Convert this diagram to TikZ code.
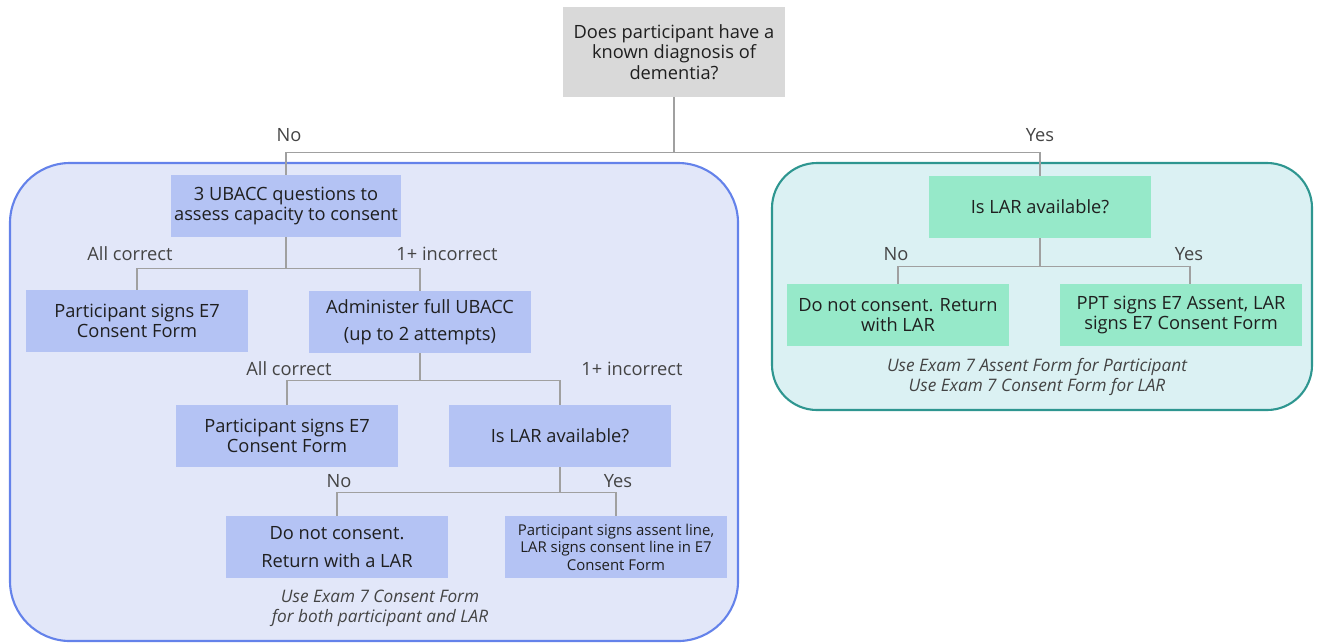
\documentclass[tikz,border=0pt]{standalone}
\usepackage{fontspec}
\setmainfont{Open Sans}
\usetikzlibrary{positioning}
\definecolor{gris}{HTML}{D9D9D9}
\definecolor{azul}{HTML}{B4C3F4}
\definecolor{azulfondo}{HTML}{E2E7F9}
\definecolor{azulborde}{HTML}{6482EA}
\definecolor{verde}{HTML}{96E9C9}
\definecolor{tealfondo}{HTML}{DBF1F3}
\definecolor{tealborde}{HTML}{2E9690}
\definecolor{linea}{HTML}{A0A0A0}
\definecolor{texto}{HTML}{444444}
\begin{document}
\begin{tikzpicture}[x=0.02cm, y=-0.02cm, font=\fontsize{10.4}{11.6}\selectfont,
      caja/.style={minimum width=4.46cm, minimum height=1.24cm, align=center, inner sep=2pt,
                   text=black!88},
      rama/.style={draw=linea, line width=0.7pt},
      etiqueta/.style={text=texto},
      nota/.style={text=texto, align=center, font=\fontsize{9.8}{11.5}\selectfont\itshape}]
    \useasboundingbox (0,0) rectangle (1317,643);
    % marcos de fondo
    \draw[draw=azulborde, fill=azulfondo, line width=1.2pt, rounded corners=1.2cm] (10,163) rectangle (738,641);
    \draw[draw=tealborde, fill=tealfondo, line width=1.2pt, rounded corners=0.9cm] (772,163) rectangle (1312,410);
    % pregunta inicial
    \node[caja, fill=gris, minimum height=1.8cm] (dem) at (674,52) {Does participant have a\\known diagnosis of\\dementia?};
    % rama sin demencia
    \node[caja, fill=azul] (ubacc) at (286,206) {3 UBACC questions to\\assess capacity to consent};
    \node[caja, fill=azul] (firma1) at (137,321) {Participant signs E7\\Consent Form};
    \node[caja, fill=azul] (full) at (420,322) {Administer full UBACC\\[4pt](up to 2 attempts)};
    \node[caja, fill=azul] (firma2) at (287,436) {Participant signs E7\\Consent Form};
    \node[caja, fill=azul] (lar1) at (560,436) {Is LAR available?};
    \node[caja, fill=azul] (noc1) at (337,547) {Do not consent.\\[4pt]Return with a LAR};
    \node[caja, fill=azul, font=\fontsize{8.5}{10}\selectfont] (asent1) at (616,547) {Participant signs assent line,\\LAR signs consent line in E7\\Consent Form};
    % rama con demencia
    \node[caja, fill=verde] (lar2) at (1040,207) {Is LAR available?};
    \node[caja, fill=verde] (noc2) at (898,315) {Do not consent. Return\\with LAR};
    \node[caja, fill=verde, minimum width=4.86cm] (asent2) at (1181,315) {PPT signs E7 Assent, LAR\\signs E7 Consent Form};
    % conectores
    \draw[rama] (dem.south) -- ++(0,55) -| (ubacc.north);
    \draw[rama] (dem.south) -- ++(0,55) -| (lar2.north);
    \draw[rama] (ubacc.south) -- ++(0,31) -| (firma1.north);
    \draw[rama] (ubacc.south) -- ++(0,31) -| (full.north);
    \draw[rama] (full.south) -- ++(0,27) -| (firma2.north);
    \draw[rama] (full.south) -- ++(0,27) -| (lar1.north);
    \draw[rama] (lar1.south) -- ++(0,25) -| (noc1.north);
    \draw[rama] (lar1.south) -- ++(0,25) -| (asent1.north);
    \draw[rama] (lar2.south) -- ++(0,28) -| (noc2.north);
    \draw[rama] (lar2.south) -- ++(0,28) -| ([xshift=0.18cm]asent2.north);
    % etiquetas
    \node[etiqueta] (eno) at (289,135) {No};
    \node[etiqueta] (esi) at (1040,135) {Yes};
    \node[etiqueta] (ebien1) at (130,254) {All correct};
    \node[etiqueta] (emal1) at (447,254) {1+ incorrect};
    \node[etiqueta] (ebien2) at (289,369) {All correct};
    \node[etiqueta] (emal2) at (632,369) {1+ incorrect};
    \node[etiqueta] (eno1) at (339,481) {No};
    \node[etiqueta] (esi1) at (618,481) {Yes};
    \node[etiqueta] (eno2) at (896,254) {No};
    \node[etiqueta] (esi2) at (1189,254) {Yes};
    % notas
    \node[nota] (nota1) at (380,608) {Use Exam 7 Consent Form\\for both participant and LAR};
    \node[nota] (nota2) at (1037,377) {Use Exam 7 Assent Form for Participant\\Use Exam 7 Consent Form for LAR};
\end{tikzpicture}
\end{document}
